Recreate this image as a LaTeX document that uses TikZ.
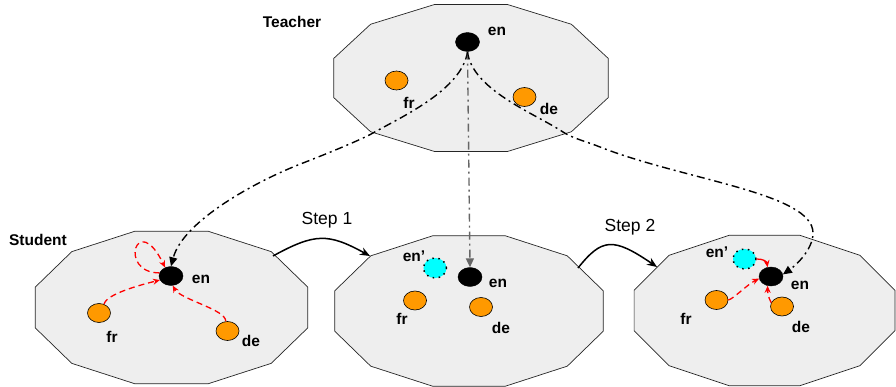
\documentclass[tikz,border=0pt]{standalone}
\usepackage{fontspec}
\setmainfont{Liberation Sans}
\usetikzlibrary{shapes.geometric,arrows.meta}
\definecolor{polyfill}{HTML}{EEEEEE}
\definecolor{orng}{HTML}{FF9900}
\definecolor{cynfill}{HTML}{00FFFF}
\definecolor{grayarr}{HTML}{666666}
\newcommand\dodeca[4]{%
  \draw[poly,shift={(#1,#2)}] (15:#3 and #4) -- (45:#3 and #4) -- (75:#3 and #4) -- (105:#3 and #4) -- (135:#3 and #4) -- (165:#3 and #4) -- (195:#3 and #4) -- (225:#3 and #4) -- (255:#3 and #4) -- (285:#3 and #4) -- (315:#3 and #4) -- (345:#3 and #4) -- cycle;}
\begin{document}
\begin{tikzpicture}[x=1pt,y=-1pt,
  poly/.style={draw=black!85, line width=0.7pt, fill=polyfill},
  blk/.style={ellipse, draw=black, fill=black, minimum width=24pt, minimum height=19pt, inner sep=0pt},
  org/.style={ellipse, draw=black, line width=0.6pt, fill=orng, minimum width=23pt, minimum height=19pt, inner sep=0pt},
  cynnode/.style={ellipse, draw=black, fill=cynfill, line width=1.5pt, dash pattern=on 1.5pt off 4.5pt, minimum width=23pt, minimum height=20pt, inner sep=0pt},
  lbl/.style={font=\bfseries\fontsize{15.5}{18}\selectfont, inner sep=0pt},
  steplbl/.style={font=\fontsize{17.5}{20}\selectfont, inner sep=0pt},
  tarr/.style={draw=black, line width=1.4pt, dash pattern=on 8pt off 4pt on 2pt off 4pt, -{Triangle[length=9pt,width=8pt]}},
  garr/.style={draw=grayarr, line width=1.4pt, dash pattern=on 8pt off 4pt on 2pt off 4pt, -{Triangle[length=9pt,width=8pt]}},
  rarr/.style={draw=red, line width=1.3pt, dash pattern=on 6pt off 4pt, -{Stealth[length=7pt,width=6pt]}},
  rsol/.style={draw=red, line width=1.3pt, -{Stealth[length=7pt,width=6pt]}},
  sarr/.style={draw=black, line width=1.5pt, -{Stealth[length=10pt,width=8pt]}}
]
\useasboundingbox (0,0) rectangle (896,387);

% polygons
\dodeca{471}{78}{142}{76}
\dodeca{171.5}{307.5}{141}{79}
\dodeca{469}{311}{139}{78}
\dodeca{764.5}{310.5}{135}{78}

% titles
\node[lbl] (teacher) at (292,22) {Teacher};
\node[lbl] (student) at (38,240) {Student};

% teacher nodes
\node[blk] (tE) at (467.5,42) {};
\node[org] (tF) at (396.5,80.5) {};
\node[org] (tD) at (524.5,97) {};
\node[lbl] (tEl) at (497,31) {en};
\node[lbl] (tFl) at (409,103) {fr};
\node[lbl] (tDl) at (549,109) {de};

% student 1
\node[blk] (eA) at (171,276) {};
\node[org] (fA) at (99,313) {};
\node[org] (dA) at (227.5,331) {};
\node[lbl] (eAl) at (201,279) {en};
\node[lbl] (fAl) at (112,337) {fr};
\node[lbl] (dAl) at (251,341) {de};

% student 2
\node[blk] (eB) at (470,277) {};
\node[cynnode] (nB) at (435,268) {};
\node[org] (fB) at (415,300.5) {};
\node[org] (dB) at (481,307) {};
\node[lbl] (eBl) at (498,283) {en};
\node[lbl] (nBl) at (414,256) {en’};
\node[lbl] (fBl) at (402,319) {fr};
\node[lbl] (dBl) at (501,328) {de};

% student 3
\node[blk] (eC) at (771,276.5) {};
\node[cynnode] (nC) at (744.5,259) {};
\node[org] (fC) at (716.5,300) {};
\node[org] (dC) at (782,306.5) {};
\node[lbl] (eCl) at (800,285) {en};
\node[lbl] (nCl) at (717,252) {en’};
\node[lbl] (fCl) at (686,319) {fr};
\node[lbl] (dCl) at (801,327) {de};

% teacher -> students
\draw[tarr] (tE.south) .. controls (462,90) and (400,117.6) .. (373,133)
  .. controls (361,140) and (317,157.6) .. (303,163)
  .. controls (256,181) and (183,221) .. (eA.north);
\draw[garr] (tE.south) -- (eB.north);
\draw[tarr] (tE.south) .. controls (472,90) and (536,114) .. (563,132)
  .. controls (573,138.6) and (588,142) .. (600,147)
  .. controls (684,180) and (813,193) .. (813,233)
  .. controls (813,250) and (795,266) .. (eC.10);

% step arrows
\coordinate (s1a) at (273,256);
\coordinate (s1b) at (370,256);
\coordinate (s2a) at (578,268);
\coordinate (s2b) at (657,267);
\draw[sarr] (s1a) .. controls +(42,-23) and +(-42,-23) .. (s1b);
\draw[sarr] (s2a) .. controls +(24,-30) and +(-44,-30) .. (s2b);
\node[steplbl] (st1) at (327,220) {Step 1};
\node[steplbl] (st2) at (630,227) {Step 2};

% student 1 red arrows
\draw[rarr] (fA.60) .. controls +(2,-10) and +(-20,5) .. (eA.200);
\draw[rarr] (dA.100) .. controls +(0,-12) and +(8,14) .. (eA.-80);
\draw[rarr] (eA.165) .. controls +(-42,0) and +(-28,-58) .. (eA.125);

% student 3 red arrows
\draw[rsol] (nC.east) .. controls +(6,0) and +(-1,-6) .. (eC.110);
\draw[rarr] (fC.east) .. controls +(5,-1) and +(-12,6) .. (eC.190);
\draw[rarr] (dC.160) .. controls +(-3,-5) and +(0,6) .. (eC.250);
\end{tikzpicture}
\end{document}
